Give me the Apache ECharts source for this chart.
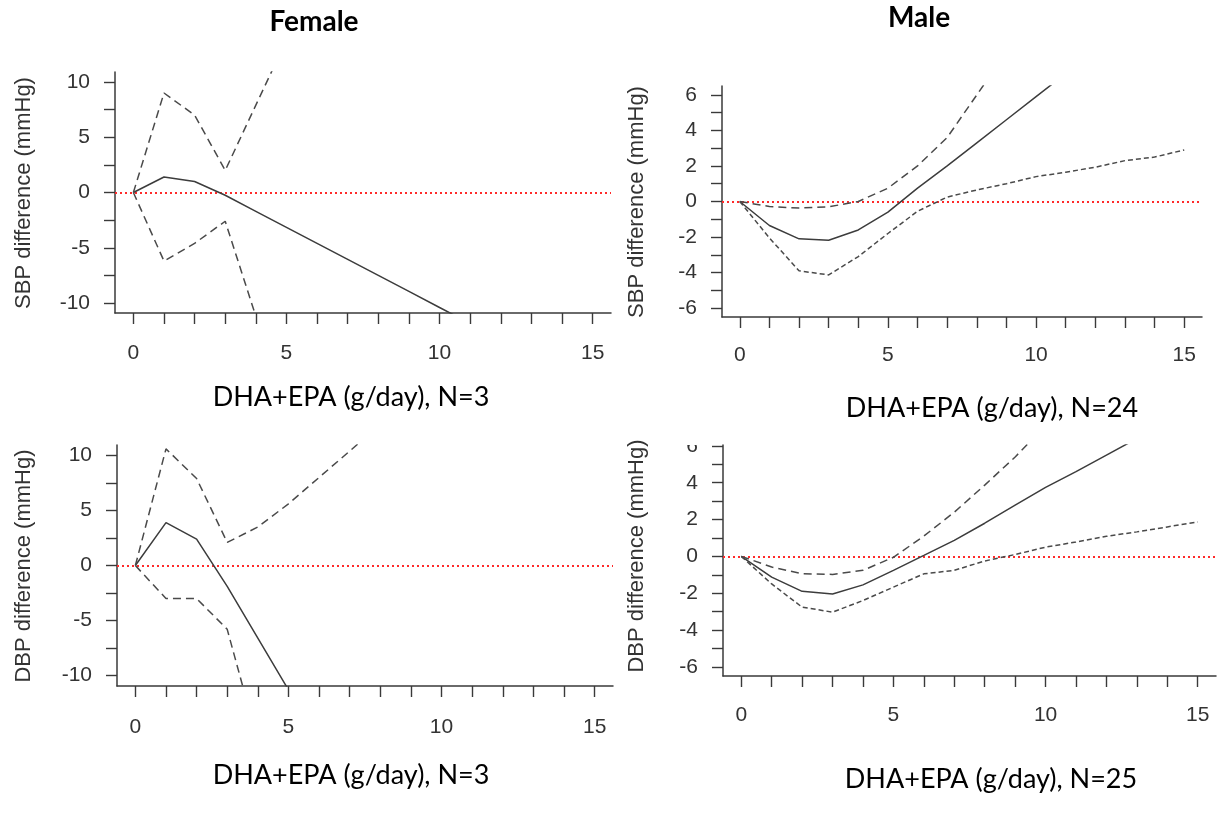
<!DOCTYPE html>
<html>
<head>
<meta charset="utf-8">
<script src="https://cdn.jsdelivr.net/npm/echarts@6/dist/echarts.min.js"></script>
<style>
html,body{margin:0;padding:0;background:#fff;}
#c{width:1221px;height:814px;}
</style>
</head>
<body>
<div id="c"></div>
<script>
// ---- data ----
const xTickLabels = [0, 5, 10, 15];
const xTicks = [0,1,2,3,4,5,6,7,8,9,10,11,12,13,14,15];

// Female SBP
const fSbpX   = [0, 1, 2, 3, 4, 5, 6, 7, 8, 9, 10, 11];
const fSbpEst = [0, 1.4, 1.0, -0.25, -1.7, -3.15, -4.6, -6.05, -7.5, -8.95, -10.4, -11.85];
const fSbpUpX = [0, 1, 2, 3, 4, 5];
const fSbpUp  = [0, 9.0, 7.0, 2.0, 7.9, 13.8];
const fSbpLoX = [0, 1, 2, 3, 4];
const fSbpLo  = [0, -6.2, -4.6, -2.6, -11.2];

// Male SBP
const mSbpX   = [0, 1, 2, 3, 4, 5, 6, 7, 8, 9, 10, 11];
const mSbpEst = [0, -1.35, -2.1, -2.18, -1.6, -0.6, 0.75, 2.0, 3.3, 4.6, 5.9, 7.2];
const mSbpUpX = [0, 1, 2, 3, 4, 5, 6, 7, 8, 9];
const mSbpUp  = [0, -0.28, -0.37, -0.3, 0.0, 0.75, 2.0, 3.6, 6.0, 8.4];
const mSbpLoX = [0, 1, 2, 3, 4, 5, 6, 7, 8, 9, 10, 11, 12, 13, 14, 15];
const mSbpLo  = [0, -2.05, -3.9, -4.13, -3.1, -1.8, -0.55, 0.25, 0.65, 1.0, 1.4, 1.65, 1.93, 2.3, 2.5, 2.9];

// Female DBP
const fDbpX   = [0, 1, 2, 3, 4, 5];
const fDbpEst = [0, 3.9, 2.4, -1.9, -6.6, -11.3];
const fDbpUpX = [0, 1, 2, 3, 4, 5, 6, 7, 8];
const fDbpUp  = [0, 10.6, 7.9, 2.1, 3.5, 5.6, 8.0, 10.4, 12.8];
const fDbpLoX = [0, 1, 2, 3, 4];
const fDbpLo  = [0, -3.0, -3.0, -5.8, -16.0];

// Male DBP
const mDbpX   = [0, 1, 2, 3, 4, 5, 6, 7, 8, 9, 10, 11, 12, 13];
const mDbpEst = [0, -1.13, -1.9, -2.04, -1.55, -0.76, 0.05, 0.87, 1.8, 2.78, 3.75, 4.6, 5.5, 6.4];
const mDbpUpX = [0, 1, 2, 3, 4, 5, 6, 7, 8, 9, 10];
const mDbpUp  = [0, -0.58, -0.95, -0.98, -0.76, -0.05, 1.1, 2.4, 3.87, 5.4, 7.1];
const mDbpLoX = [0, 1, 2, 3, 4, 5, 6, 7, 8, 9, 10, 11, 12, 13, 14, 15];
const mDbpLo  = [0, -1.5, -2.76, -3.03, -2.4, -1.67, -0.95, -0.76, -0.25, 0.1, 0.5, 0.78, 1.09, 1.33, 1.6, 1.87];

const femaleYTicks = [-10, -7.5, -5, -2.5, 0, 2.5, 5, 7.5, 10];
const femaleYLabels = [-10, -5, 0, 5, 10];
const maleYTicks = [-6, -5, -4, -3, -2, -1, 0, 1, 2, 3, 4, 5, 6];
const maleYLabels = [-6, -4, -2, 0, 2, 4, 6];

const titles = ['Female', 'Male'];
const xTitles = ['DHA+EPA (g/day), N=3', 'DHA+EPA (g/day), N=24', 'DHA+EPA (g/day), N=3', 'DHA+EPA (g/day), N=25'];
const yTitles = ['SBP difference (mmHg)', 'SBP difference (mmHg)', 'DBP difference (mmHg)', 'DBP difference (mmHg)'];

// ---- chart ----
const zip = (xs, ys) => xs.map((x, i) => [x, ys[i]]);
const AX = '#3a3a3a';
const tickFont = {fontFamily: 'Liberation Sans', fontSize: 21, color: '#333'};

const grids = [
  {left: 115, top: 72, width: 496, height: 241},
  {left: 722, top: 86, width: 480, height: 231},
  {left: 117, top: 445, width: 496, height: 241},
  {left: 723, top: 445, width: 493, height: 231}
];
const yRanges = [[-10.9, 10.9], [-6.5, 6.5], [-10.95, 10.95], [-6.5, 6.05]];
const yTickSets = [femaleYTicks, maleYTicks, femaleYTicks, maleYTicks];
const yLabelSets = [femaleYLabels, maleYLabels, femaleYLabels, maleYLabels];
const xLabelMargins = [30, 28, 31, 29];

const xAxes = grids.map((g, i) => ({
  type: 'value', gridIndex: i, min: -0.6, max: 15.6,
  axisLine: {show: true, onZero: false, lineStyle: {color: AX, width: 1.5}},
  axisTick: {show: true, length: 11, lineStyle: {color: AX, width: 1.4}, customValues: xTicks},
  axisLabel: Object.assign({margin: xLabelMargins[i], customValues: xTickLabels}, tickFont),
  splitLine: {show: false}
}));
const yAxes = grids.map((g, i) => ({
  type: 'value', gridIndex: i, min: yRanges[i][0], max: yRanges[i][1],
  axisLine: {show: true, onZero: false, lineStyle: {color: AX, width: 1.5}},
  axisTick: {show: true, length: 11, lineStyle: {color: AX, width: 1.4}, customValues: yTickSets[i]},
  axisLabel: Object.assign({margin: 25, customValues: yLabelSets[i]}, tickFont),
  splitLine: {show: false}
}));

function est(i, xs, ys) {
  return {type: 'line', xAxisIndex: i, yAxisIndex: i, data: zip(xs, ys), symbol: 'none', smooth: false,
    lineStyle: {color: '#3c3c3c', width: 1.5}, clip: true, silent: true, z: 3,
    markLine: {silent: true, symbol: ['none', 'none'], label: {show: false}, z: 1,
      lineStyle: {color: '#ff2a2a', type: [2, 3], width: 1.8}, data: [{yAxis: 0}]}};
}
function ci(i, xs, ys, dash) {
  return {type: 'line', xAxisIndex: i, yAxisIndex: i, data: zip(xs, ys), symbol: 'none',
    lineStyle: {color: '#4a4a4a', width: 1.5, type: dash}, clip: true, silent: true, z: 3};
}

const series = [
  est(0, fSbpX, fSbpEst), ci(0, fSbpUpX, fSbpUp, [8, 5]), ci(0, fSbpLoX, fSbpLo, [8, 5]),
  est(1, mSbpX, mSbpEst), ci(1, mSbpUpX, mSbpUp, [8, 5]), ci(1, mSbpLoX, mSbpLo, [5, 3]),
  est(2, fDbpX, fDbpEst), ci(2, fDbpUpX, fDbpUp, [8, 5]), ci(2, fDbpLoX, fDbpLo, [8, 5]),
  est(3, mDbpX, mDbpEst), ci(3, mDbpUpX, mDbpUp, [8, 5]), ci(3, mDbpLoX, mDbpLo, [5, 3])
];

const calibri = 'Lato, "Open Sans", sans-serif';
function txt(x, y, s, size, weight, rot) {
  return {type: 'text', x: x, y: y, rotation: rot || 0, z: 100,
    style: {text: s, font: (weight || 'normal') + ' ' + size + 'px ' + (rot ? 'Liberation Sans' : calibri),
      fill: rot ? '#333' : '#000', textAlign: 'center', textVerticalAlign: 'middle'}};
}
const graphic = [
  txt(314, 22, titles[0], 28, 'bold'),
  txt(919, 18, titles[1], 28, 'bold'),
  txt(351, 397, xTitles[0], 27),
  txt(992, 408, xTitles[1], 27),
  txt(351, 775, xTitles[2], 27),
  txt(991, 779, xTitles[3], 27),
  txt(24, 193, yTitles[0], 22, 'normal', Math.PI / 2),
  txt(637, 202, yTitles[1], 22, 'normal', Math.PI / 2),
  txt(24, 566, yTitles[2], 22, 'normal', Math.PI / 2),
  txt(637, 556, yTitles[3], 22, 'normal', Math.PI / 2),
  {type: 'rect', shape: {x: 660, y: 425, width: 60, height: 20}, style: {fill: '#fff'}, z: 200}
];

const chart = echarts.init(document.getElementById('c'), null, {renderer: 'canvas'});
chart.setOption({
  animation: false,
  backgroundColor: '#fff',
  grid: grids,
  xAxis: xAxes,
  yAxis: yAxes,
  series: series,
  graphic: graphic
});
</script>
</body>
</html>
